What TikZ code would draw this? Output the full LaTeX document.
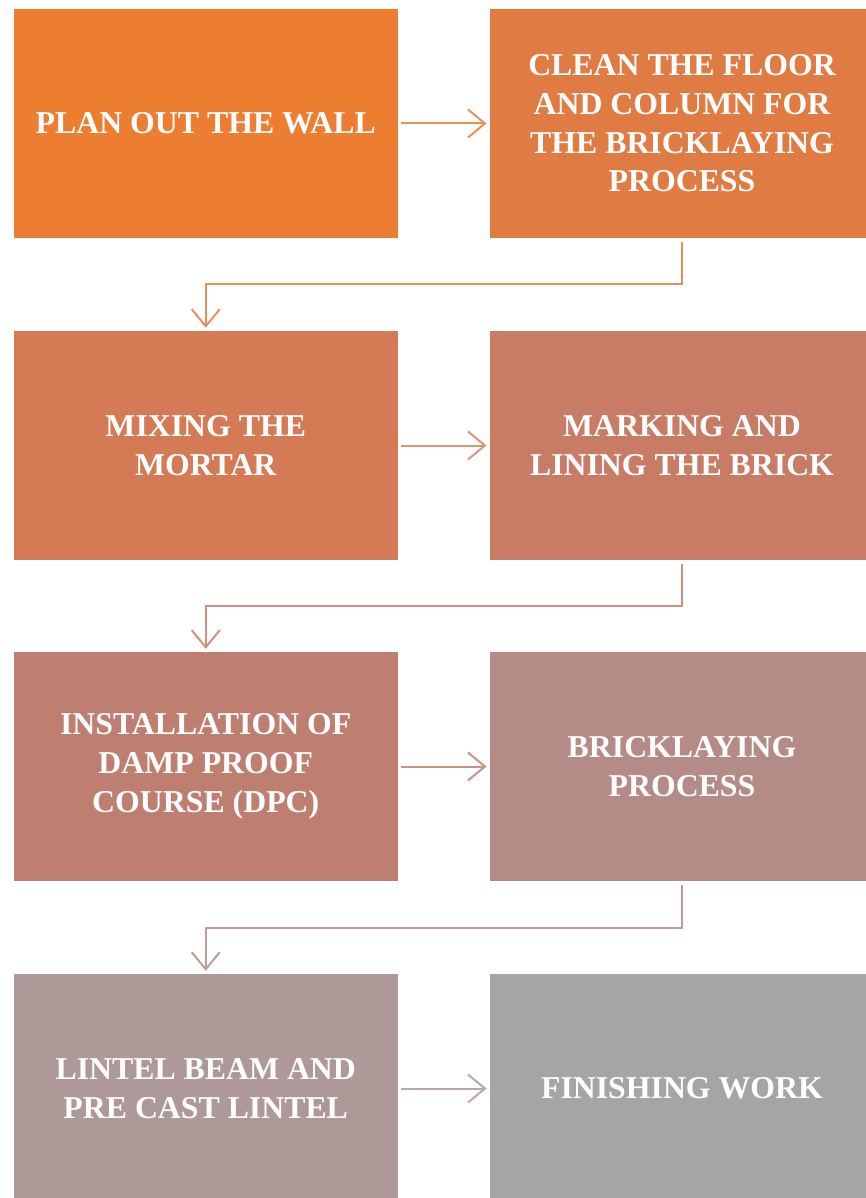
\documentclass[tikz,border=0pt]{standalone}
\usepackage{fontspec}
\setmainfont{Liberation Serif}
\usetikzlibrary{arrows.meta,calc}
\definecolor{c1}{HTML}{ED7D31}
\definecolor{c2}{HTML}{E07B43}
\definecolor{c3}{HTML}{D47B56}
\definecolor{c4}{HTML}{C87C66}
\definecolor{c5}{HTML}{BE7F71}
\definecolor{c6}{HTML}{B58B87}
\definecolor{c7}{HTML}{AE9998}
\definecolor{c8}{HTML}{A5A5A5}
\begin{document}
\begin{tikzpicture}[x=1pt,y=-1pt,
  stepbox/.style={rectangle, inner sep=0pt, minimum width=384.5pt, minimum height=229pt,
    text=white, align=center, font=\fontsize{31.8}{38.7}\selectfont\bfseries},
  conn/.style={line width=2pt, -{Straight Barb[length=17pt,width=28pt,line width=2pt]},
    shorten <=3pt, shorten >=3pt}]
\useasboundingbox (0,0) rectangle (866,1198);
\begin{scope}
\clip (0,0) rectangle (866,1198);
\node[stepbox, fill=c1] (b1) at (205.75,123.5) {PLAN OUT THE WALL};
\node[stepbox, fill=c2] (b2) at (682,123.5) {CLEAN THE FLOOR\\AND COLUMN FOR\\THE BRICKLAYING\\PROCESS};
\node[stepbox, fill=c3] (b3) at (205.75,445.5) {MIXING THE\\MORTAR};
\node[stepbox, fill=c4] (b4) at (682,445.5) {MARKING AND\\LINING THE BRICK};
\node[stepbox, fill=c5] (b5) at (205.75,766.5) {INSTALLATION OF\\DAMP PROOF\\COURSE (DPC)};
\node[stepbox, fill=c6] (b6) at (682,766.5) {BRICKLAYING\\PROCESS};
\node[stepbox, fill=c7] (b7) at (205.75,1088.5) {LINTEL BEAM AND\\PRE CAST LINTEL};
\node[stepbox, fill=c8] (b8) at (682,1088.5) {FINISHING WORK};
\end{scope}
\draw[conn, draw=c1!85!white] (b1.east) -- (b2.west);
\draw[conn, draw=c2!85!white, shorten <=4pt] (b2.south) -- ++(0,46) -| (b3.north);
\draw[conn, draw=c3!80!white] (b3.east) -- (b4.west);
\draw[conn, draw=c4!85!white, shorten <=4pt] (b4.south) -- ++(0,46) -| (b5.north);
\draw[conn, draw=c5!85!white] (b5.east) -- (b6.west);
\draw[conn, draw=c6!85!white, shorten <=4pt] (b6.south) -- ++(0,46.5) -| (b7.north);
\draw[conn, draw=c7!85!white] (b7.east) -- (b8.west);
\end{tikzpicture}
\end{document}
